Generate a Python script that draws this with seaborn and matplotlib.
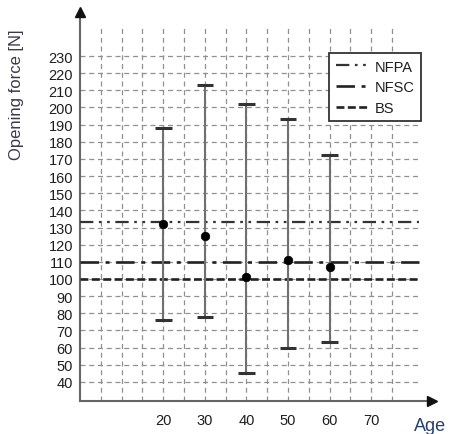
import matplotlib
matplotlib.use("Agg")
import matplotlib.pyplot as plt
import seaborn as sns
import numpy as np
import pandas as pd

sns.set_theme(style="white")
plt.rcParams['font.family'] = ['Liberation Sans', 'DejaVu Sans']

# Data
ages = [20, 30, 40, 50, 60]
means = [132, 125, 101, 111, 107]
upper = [188, 213, 202, 193, 172]
lower = [76, 78, 45, 60, 63]
nfpa = 133
nfsc = 110
bs = 100
y_ticks = list(range(40, 240, 10))
x_ticks = [20, 30, 40, 50, 60, 70]
x_grid = list(range(5, 80, 5))

df = pd.DataFrame({"Age": ages, "Mean": means})

W, H = 455, 435
fig = plt.figure(figsize=(W / 100, H / 100), dpi=100)
left, right, bottom, top = 80, 432, 402, 13
ax = fig.add_axes([left / W, (H - bottom) / H, (right - left) / W, (bottom - top) / H])
ax.set_xlim(0, 84.6)
ax.set_ylim(28.8, 255.7)

grid_col = "#909090"
# grid
ax.hlines(y_ticks, 0, 81.5, colors=grid_col, linestyles=(0, (4, 3)), linewidth=0.9, zorder=1)
ax.vlines(x_grid, 28.8, 247, colors=grid_col, linestyles=(0, (4, 3)), linewidth=0.9, zorder=1)

# reference lines
l1, = ax.plot([0, 81.5], [nfpa, nfpa], color="#333333", lw=1.6,
              linestyle=(0, (6, 2.5, 1.2, 2.5, 1.2, 2.5)), label="NFPA", zorder=3)
l2, = ax.plot([0, 81.5], [nfsc, nfsc], color="#222222", lw=1.9,
              linestyle=(0, (7, 2.5, 1.5, 2.5)), label="NFSC", zorder=3)
l3, = ax.plot([0, 81.5], [bs, bs], color="#222222", lw=1.9,
              linestyle=(0, (3, 1.3)), label="BS", zorder=3)

# error bars
ax.vlines(ages, lower, upper, colors="#707070", linewidth=1.5, zorder=4)
cap = 2.0
for a, lo, up in zip(ages, lower, upper):
    ax.plot([a - cap, a + cap], [up, up], color="#333333", lw=2.2, zorder=5, solid_capstyle="butt")
    ax.plot([a - cap, a + cap], [lo, lo], color="#333333", lw=2.2, zorder=5, solid_capstyle="butt")

sns.scatterplot(data=df, x="Age", y="Mean", color="black", s=38, ax=ax, zorder=6,
                edgecolor="black", legend=False)

# axes
for s in ["top", "right"]:
    ax.spines[s].set_visible(False)
for s in ["left", "bottom"]:
    ax.spines[s].set_color("#666666")
    ax.spines[s].set_linewidth(1.5)
ax.plot([0], [1], marker="^", color="#111111", markersize=7, transform=ax.transAxes, clip_on=False, zorder=7)
ax.plot([1], [0], marker=">", color="#111111", markersize=7, transform=ax.transAxes, clip_on=False, zorder=7)

ax.set_yticks(y_ticks)
ax.set_yticklabels([str(v) for v in y_ticks], fontsize=10.5, color="#1e1e1e")
ax.set_xticks(x_ticks)
ax.set_xticklabels([str(v) for v in x_ticks], fontsize=10.5, color="#1e1e1e")
ax.tick_params(axis="y", length=0, pad=5)
ax.tick_params(axis="x", length=0, pad=9)
ax.set_xlabel("")
ax.set_ylabel("")

fig.text(17 / W, 1 - 95 / H, "Opening force [N]", rotation=90, ha="center", va="center",
         fontsize=12, color="#3a3a4a")
fig.text(430 / W, 1 - 427 / H, "Age", ha="center", va="center", fontsize=13, color="#27406e")

leg = ax.legend(handles=[l1, l2, l3], loc="upper left",
                bbox_to_anchor=((329 - left) / (right - left), (bottom - 54) / (bottom - top)),
                frameon=True, fancybox=False, fontsize=10.5, handlelength=2.2,
                borderpad=0.45, labelspacing=0.45, handletextpad=0.5, borderaxespad=0)
for t in leg.get_texts():
    t.set_color("#1e1e1e")
leg.get_frame().set_edgecolor("#333333")
leg.get_frame().set_linewidth(1.3)
leg.get_frame().set_facecolor("white")
leg.get_frame().set_alpha(1)
leg.set_zorder(10)

fig.savefig("out.png", dpi=100)
